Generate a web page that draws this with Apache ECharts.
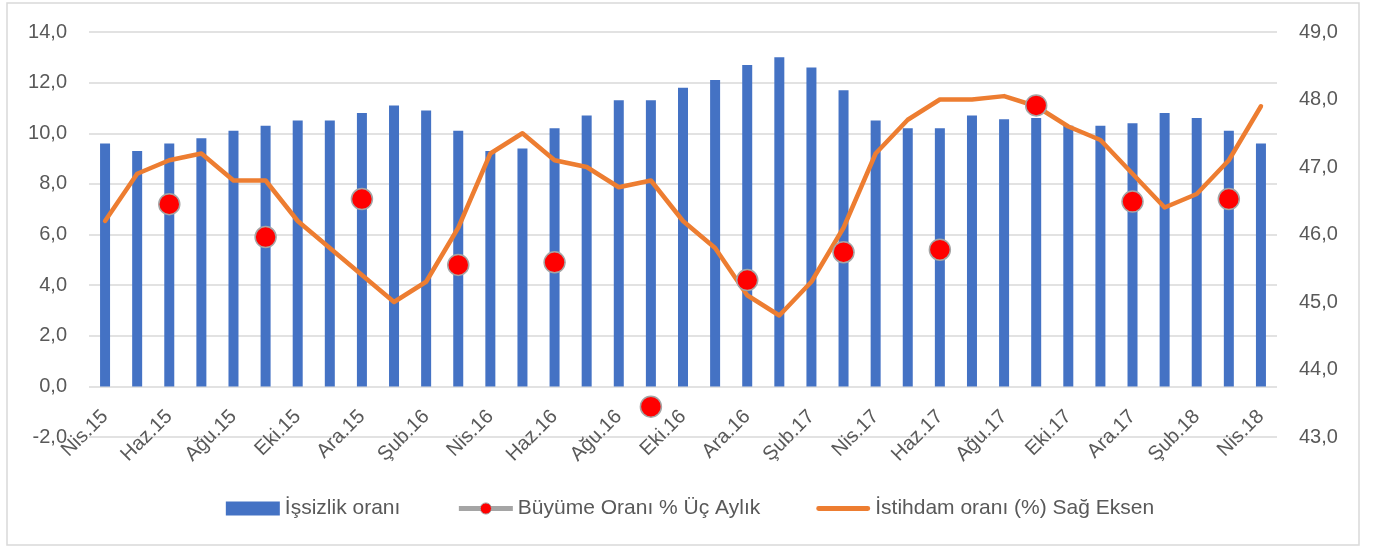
<!DOCTYPE html>
<html>
<head>
<meta charset="utf-8">
<script src="https://cdn.jsdelivr.net/npm/echarts@6/dist/echarts.min.js"></script>
<style>
  html, body { margin: 0; padding: 0; background: #fff; }
  #chart { width: 1380px; height: 549px; }
</style>
</head>
<body>
<div id="chart"></div>
<script>
const months = [
  'Nis.15', 'May.15', 'Haz.15', 'Tem.15', 'Ağu.15', 'Eyl.15', 'Eki.15', 'Kas.15', 'Ara.15',
  'Oca.16', 'Şub.16', 'Mar.16', 'Nis.16', 'May.16', 'Haz.16', 'Tem.16', 'Ağu.16', 'Eyl.16',
  'Eki.16', 'Kas.16', 'Ara.16', 'Oca.17', 'Şub.17', 'Mar.17', 'Nis.17', 'May.17', 'Haz.17',
  'Tem.17', 'Ağu.17', 'Eyl.17', 'Eki.17', 'Kas.17', 'Ara.17', 'Oca.18', 'Şub.18', 'Mar.18',
  'Nis.18'
];

// İşsizlik oranı (left axis)
const unemployment = [
  9.6, 9.3, 9.6, 9.8, 10.1, 10.3, 10.5, 10.5, 10.8,
  11.1, 10.9, 10.1, 9.3, 9.4, 10.2, 10.7, 11.3, 11.3,
  11.8, 12.1, 12.7, 13.0, 12.6, 11.7, 10.5, 10.2, 10.2,
  10.7, 10.55, 10.6, 10.3, 10.3, 10.4, 10.8, 10.6, 10.1,
  9.6
];

// Büyüme oranı, quarterly (left axis)
const growth = [
  null, null, 7.2, null, null, 5.9, null, null, 7.4,
  null, null, 4.8, null, null, 4.9, null, null, -0.8,
  null, null, 4.2, null, null, 5.3, null, null, 5.4,
  null, null, 11.1, null, null, 7.3, null, null, 7.4,
  null
];

// İstihdam oranı (right axis)
const employment = [
  46.2, 46.9, 47.1, 47.2, 46.8, 46.8, 46.2, 45.8, 45.4,
  45.0, 45.3, 46.1, 47.2, 47.5, 47.1, 47.0, 46.7, 46.8,
  46.2, 45.8, 45.1, 44.8, 45.3, 46.1, 47.2, 47.7, 48.0,
  48.0, 48.05, 47.9, 47.6, 47.4, 46.9, 46.4, 46.6, 47.1,
  47.9
];

const leftTicks = { min: -2, max: 14, step: 2 };
const rightTicks = { min: 43, max: 49, step: 1 };

const FONT = 'Liberation Sans';
const comma = v => v.toFixed(1).replace('.', ',');

const gridTop = 32;
const gridBottom = 112;
const plotH = 549 - gridTop - gridBottom;
// category axis sits on the 0 line of the left axis, not at the bottom
const zeroOffset = -plotH * (0 - leftTicks.min) / (leftTicks.max - leftTicks.min);

const chart = echarts.init(document.getElementById('chart'));

const option = {
  backgroundColor: '#fff',
  textStyle: { fontFamily: FONT },
  animation: false,
  graphic: [{
    type: 'rect',
    shape: { x: 7, y: 3, width: 1352, height: 542 },
    style: { fill: 'none', stroke: '#d9d9d9', lineWidth: 1.5 },
    silent: true
  }],
  grid: {
    left: 89,
    right: 103,
    top: gridTop,
    bottom: gridBottom,
    containLabel: false
  },
  legend: {
    bottom: 25,
    left: 'center',
    itemGap: 56,
    itemWidth: 54,
    itemHeight: 14,
    textStyle: { fontFamily: FONT, fontSize: 21, color: '#595959' },
    data: [
      { name: 'İşsizlik oranı', icon: 'rect' },
      {
        name: 'Büyüme Oranı % Üç Aylık',
        lineStyle: { color: '#a5a5a5', width: 5 },
        itemStyle: { color: '#ff0000', borderColor: '#a5a5a5', borderWidth: 1 }
      },
      { name: 'İstihdam oranı (%) Sağ Eksen', icon: 'path://M2,0 L52,0 A2.5,2.5 0 0 1 52,5 L2,5 A2.5,2.5 0 0 1 2,0 Z' }
    ]
  },
  xAxis: {
    type: 'category',
    data: months,
    boundaryGap: true,
    offset: zeroOffset,
    axisLine: { show: false, onZero: false },
    axisTick: { show: false },
    axisLabel: {
      interval: 1,
      rotate: 45,
      margin: 27,
      fontSize: 20,
      color: '#595959',
      fontFamily: FONT
    },
    splitLine: { show: false }
  },
  yAxis: [
    {
      type: 'value',
      min: leftTicks.min,
      max: leftTicks.max,
      interval: leftTicks.step,
      axisLine: { show: false },
      axisTick: { show: false },
      axisLabel: {
        formatter: comma,
        fontSize: 20,
        color: '#595959',
        margin: 22,
        fontFamily: FONT
      },
      splitLine: { show: true, lineStyle: { color: '#d9d9d9', width: 1.5 } }
    },
    {
      type: 'value',
      min: rightTicks.min,
      max: rightTicks.max,
      interval: rightTicks.step,
      axisLine: { show: false },
      axisTick: { show: false },
      axisLabel: {
        formatter: comma,
        fontSize: 20,
        color: '#595959',
        margin: 22,
        fontFamily: FONT
      },
      splitLine: { show: false }
    }
  ],
  series: [
    {
      name: 'İşsizlik oranı',
      type: 'bar',
      yAxisIndex: 0,
      barWidth: 10,
      itemStyle: { color: '#4472c4' },
      data: unemployment
    },
    {
      name: 'Büyüme Oranı % Üç Aylık',
      type: 'line',
      yAxisIndex: 0,
      symbol: 'circle',
      symbolSize: 21,
      showSymbol: true,
      showAllSymbol: true,
      connectNulls: false,
      lineStyle: { color: '#a5a5a5', width: 5 },
      itemStyle: { color: '#ff0000', borderColor: '#a5a5a5', borderWidth: 1.5 },
      data: growth
    },
    {
      name: 'İstihdam oranı (%) Sağ Eksen',
      type: 'line',
      yAxisIndex: 1,
      symbol: 'none',
      lineStyle: { color: '#ed7d31', width: 4.5, cap: 'round', join: 'round' },
      itemStyle: { color: '#ed7d31' },
      data: employment
    }
  ]
};

chart.setOption(option);
</script>
</body>
</html>
